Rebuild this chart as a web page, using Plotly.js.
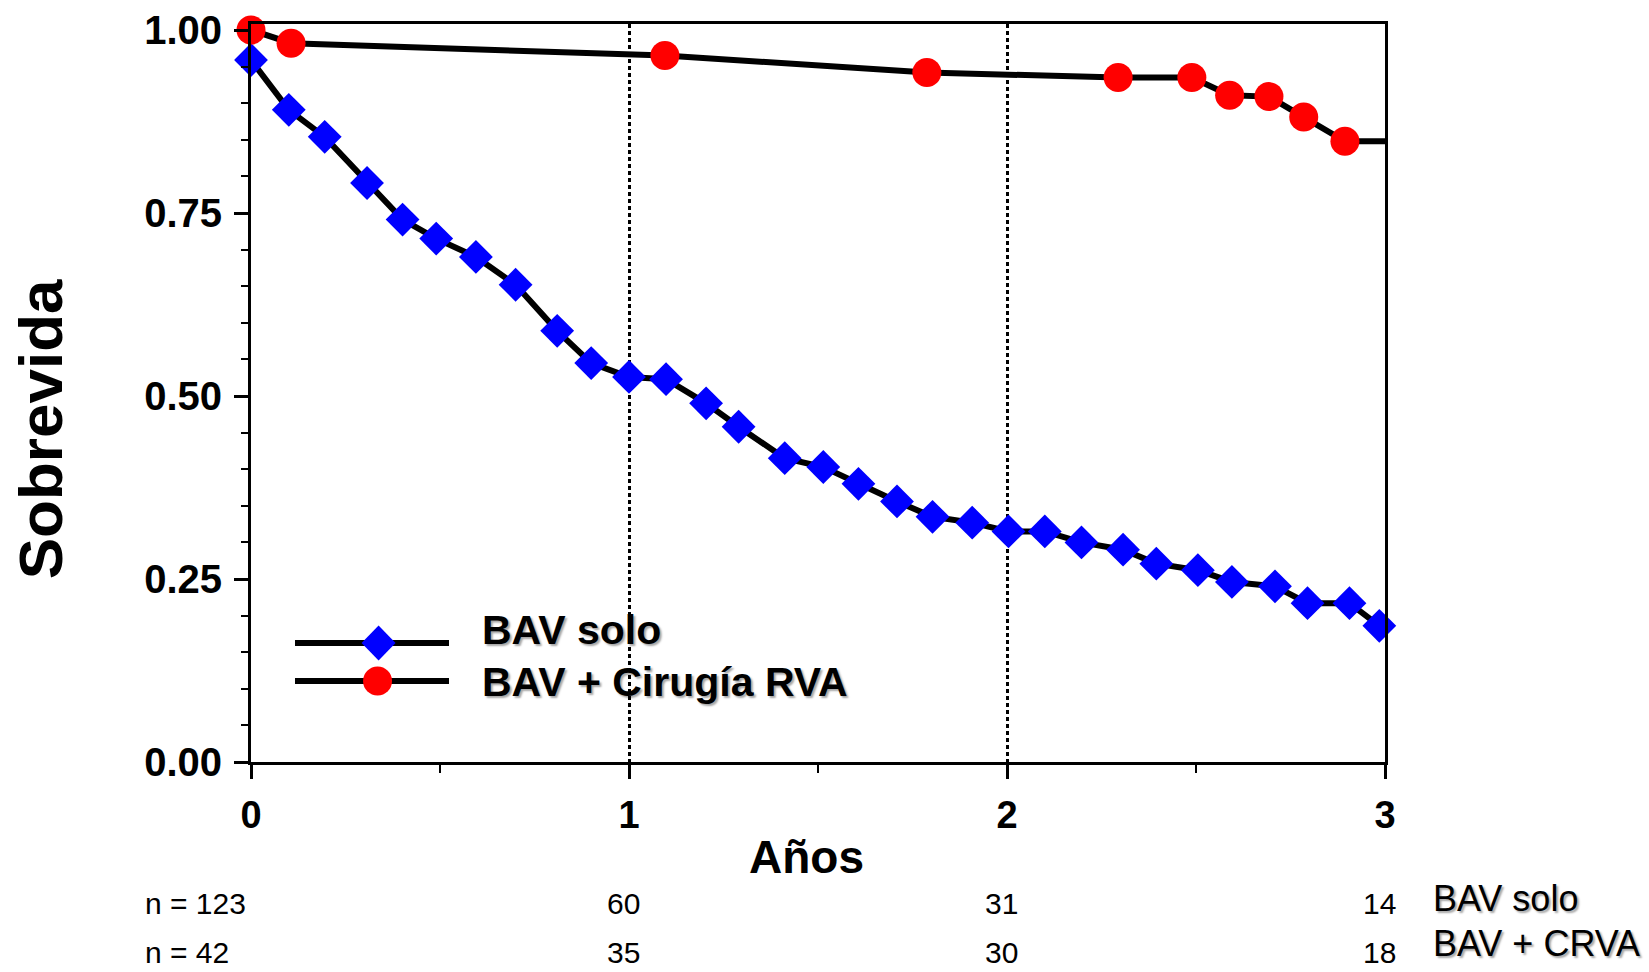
<!DOCTYPE html>
<html>
<head>
<meta charset="utf-8">
<script src="https://cdn.plot.ly/plotly-3.0.1.min.js"></script>
<style>html,body{margin:0;padding:0;background:#fff;}#chart{width:1649px;height:972px;}</style>
</head>
<body>
<div id="chart"></div>
<script>
// ---- Data ----
const bavSoloName = 'BAV solo';
const bavCrvaName = 'BAV + Cirugía RVA';
const bavSoloX = [0, 0.10, 0.195, 0.307, 0.401, 0.49, 0.595, 0.70, 0.81, 0.90, 1.00, 1.098, 1.204, 1.29, 1.412, 1.514, 1.607, 1.709, 1.803, 1.908, 2.004, 2.10, 2.197, 2.307, 2.395, 2.505, 2.595, 2.709, 2.795, 2.906, 2.985];
const bavSoloY = [0.959, 0.891, 0.854, 0.791, 0.741, 0.715, 0.690, 0.652, 0.589, 0.545, 0.526, 0.523, 0.490, 0.458, 0.415, 0.403, 0.380, 0.356, 0.335, 0.327, 0.315, 0.315, 0.300, 0.290, 0.271, 0.262, 0.246, 0.240, 0.217, 0.217, 0.186];
const bavCrvaX = [0, 0.106, 1.095, 1.788, 2.294, 2.489, 2.589, 2.693, 2.785, 2.894];
const bavCrvaY = [1.0, 0.982, 0.965, 0.942, 0.935, 0.935, 0.911, 0.909, 0.881, 0.848];
const followUpEnd = 3;            // years of follow-up shown
const yTickVals = [0, 0.25, 0.5, 0.75, 1.0];
const yTickText = ['0.00', '0.25', '0.50', '0.75', '1.00'];
const xTickVals = [0, 1, 2, 3];
const xTickText = ['0', '1', '2', '3'];
const atRiskYears = [0, 1, 2, 3];
const atRiskSolo = [123, 60, 31, 14];
const atRiskCrva = [42, 35, 30, 18];
const atRiskLabels = ['BAV solo', 'BAV + CRVA'];
const xTitle = 'Años';
const yTitle = 'Sobrevida';

// ---- Styling ----
const FONT = 'Liberation Sans, Arial, Helvetica, sans-serif';
const shadow = '2px 2px 2px rgba(0,0,0,0.35)';

const crvaLineX = bavCrvaX.concat([followUpEnd]);
const crvaLineY = bavCrvaY.concat([bavCrvaY[bavCrvaY.length - 1]]);

const traces = [
  {
    type: 'scatter', mode: 'lines+markers', name: bavSoloName,
    x: bavSoloX, y: bavSoloY, cliponaxis: false, showlegend: false,
    line: {color: '#000', width: 6},
    marker: {color: '#0000ff', symbol: 'diamond', size: 26, line: {width: 0}}
  },
  {
    type: 'scatter', mode: 'lines', name: bavCrvaName,
    x: crvaLineX, y: crvaLineY, cliponaxis: false, showlegend: false,
    line: {color: '#000', width: 6}, hoverinfo: 'skip'
  },
  {
    type: 'scatter', mode: 'markers', name: bavCrvaName,
    x: bavCrvaX, y: bavCrvaY, cliponaxis: false, showlegend: false,
    marker: {color: '#ff0000', symbol: 'circle', size: 29, line: {width: 0}}
  }
];

const annotations = [];
// axis titles
annotations.push({xref: 'paper', yref: 'paper', x: -0.186, y: 0.451, xanchor: 'center', yanchor: 'middle',
  textangle: -90, showarrow: false, text: yTitle, font: {family: FONT, size: 62, weight: 'bold', color: '#000'}});
annotations.push({xref: 'paper', yref: 'paper', x: 0.49, y: -0.1287, xanchor: 'center', yanchor: 'middle',
  showarrow: false, text: xTitle, font: {family: FONT, size: 46, weight: 'bold', color: '#000'}});
// numbers at risk
const riskRows = [atRiskSolo, atRiskCrva];
const riskRowY = [-0.192, -0.2575];
const riskLabelY = [-0.1856, -0.2466];
riskRows.forEach(function (row, r) {
  row.forEach(function (v, i) {
    if (i === 0) {
      annotations.push({xref: 'paper', yref: 'paper', x: -0.095, y: riskRowY[r], xanchor: 'left', yanchor: 'middle',
        showarrow: false, text: 'n = ' + v, font: {family: FONT, size: 30, color: '#000'}});
    } else {
      annotations.push({xref: 'x', yref: 'paper', x: atRiskYears[i], xshift: -6, y: riskRowY[r], xanchor: 'center', yanchor: 'middle',
        showarrow: false, text: String(v), font: {family: FONT, size: 30, color: '#000'}});
    }
  });
  annotations.push({xref: 'paper', yref: 'paper', x: 1.0406, y: riskLabelY[r], xanchor: 'left', yanchor: 'middle',
    showarrow: false, text: atRiskLabels[r], font: {family: FONT, size: 36, color: '#000', shadow: shadow}});
});
// custom legend texts
const legendTextY = [0.1789, 0.1084];
[bavSoloName, bavCrvaName].forEach(function (t, i) {
  annotations.push({xref: 'paper', yref: 'paper', x: 0.2019, y: legendTextY[i], xanchor: 'left', yanchor: 'middle',
    showarrow: false, text: t, font: {family: FONT, size: 41, weight: 'bold', color: '#000', shadow: shadow}});
});

const legLineY = [0.1612, 0.1098];
const shapes = [
  // white legend background (interrupts the dotted grid)
  {type: 'rect', xref: 'paper', yref: 'paper', x0: 0.0256, x1: 0.546, y0: 0.061, y1: 0.2304,
   fillcolor: '#fff', line: {width: 0}, layer: 'between'},
  // legend line samples
  {type: 'line', xref: 'paper', yref: 'paper', x0: 0.0388, x1: 0.1746, y0: legLineY[0], y1: legLineY[0],
   line: {color: '#000', width: 6}, layer: 'above'},
  {type: 'line', xref: 'paper', yref: 'paper', x0: 0.0388, x1: 0.1746, y0: legLineY[1], y1: legLineY[1],
   line: {color: '#000', width: 6}, layer: 'above'},
  // legend diamond
  {type: 'path', xref: 'paper', yref: 'paper', xsizemode: 'pixel', ysizemode: 'pixel',
   xanchor: 0.1125, yanchor: legLineY[0], path: 'M 0 17.5 L 17 0 L 0 -17.5 L -17 0 Z',
   fillcolor: '#0000ff', line: {width: 0}, layer: 'above'},
  // legend circle
  {type: 'circle', xref: 'paper', yref: 'paper', xsizemode: 'pixel', ysizemode: 'pixel',
   xanchor: 0.1116, yanchor: legLineY[1], x0: -14.5, x1: 14.5, y0: -14.5, y1: 14.5,
   fillcolor: '#ff0000', line: {width: 0}, layer: 'above'}
];

const layout = {
  width: 1649, height: 972,
  margin: {l: 251, r: 264, t: 24, b: 210},
  paper_bgcolor: '#fff', plot_bgcolor: '#fff',
  showlegend: false,
  font: {family: FONT, color: '#000'},
  xaxis: {
    range: [0, 3], tickmode: 'array', tickvals: xTickVals, ticktext: xTickText,
    ticks: 'outside', ticklen: 14, tickwidth: 3, tickcolor: '#000',
    minor: {dtick: 0.5, tick0: 0, ticks: 'outside', ticklen: 8, tickwidth: 2, tickcolor: '#000', showgrid: false},
    showline: true, linewidth: 3, linecolor: '#000', mirror: true,
    showgrid: true, gridcolor: '#000', gridwidth: 3, griddash: '4px,3px',
    zeroline: false, ticklabelstandoff: 3,
    tickfont: {family: FONT, size: 38, weight: 'bold', color: '#000'}
  },
  yaxis: {
    range: [0, 1.0082], tickmode: 'array', tickvals: yTickVals, ticktext: yTickText,
    ticks: 'outside', ticklen: 14, tickwidth: 3, tickcolor: '#000',
    minor: {dtick: 0.05, tick0: 0, ticks: 'outside', ticklen: 7, tickwidth: 2, tickcolor: '#000', showgrid: false},
    showline: true, linewidth: 3, linecolor: '#000', mirror: true,
    showgrid: false, zeroline: false, ticklabelstandoff: 4,
    tickfont: {family: FONT, size: 40, weight: 'bold', color: '#000'}
  },
  annotations: annotations,
  shapes: shapes
};

Plotly.newPlot('chart', traces, layout, {staticPlot: true, displayModeBar: false});
</script>
</body>
</html>
